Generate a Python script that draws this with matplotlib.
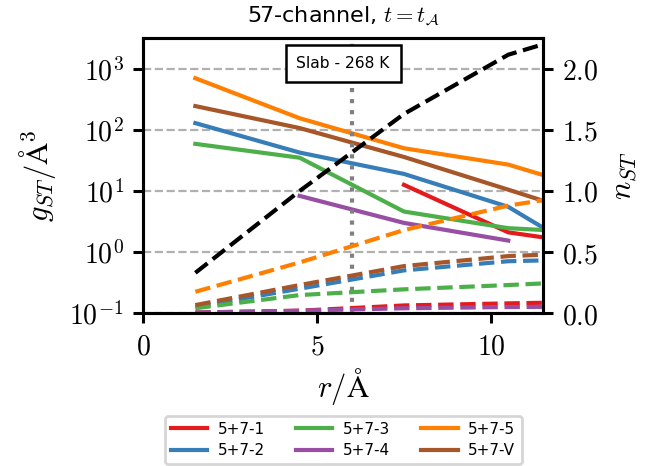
import numpy as np
import matplotlib
matplotlib.use("Agg")
import matplotlib.pyplot as plt
from matplotlib.ticker import FixedLocator, FixedFormatter, NullLocator

plt.rcParams['mathtext.fontset'] = 'cm'
plt.rcParams['axes.linewidth'] = 1.1

nan = np.nan
r = [1.5, 4.5, 7.5, 10.5, 13.5]

# g_ST (left axis, log)
g_1 = [nan, nan, 12.6, 2.1, 1.2]
g_2 = [129, 42.5, 19, 5.5, 0.52]
g_3 = [59, 35, 4.6, 2.46, 2.0]
g_4 = [nan, 8.3, 3.0, 1.54, nan]
g_5 = [700, 155, 50, 27, 8.3]
g_V = [245, 107, 36, 10.5, 3.0]

# n_ST (right axis)
n_1 = [0.005, 0.02, 0.063, 0.08, 0.095]
n_2 = [0.052, 0.20, 0.35, 0.425, 0.445]
n_3 = [0.04, 0.148, 0.195, 0.23, 0.27]
n_4 = [0.005, 0.02, 0.04, 0.05, 0.055]
n_5 = [0.175, 0.415, 0.68, 0.88, 1.015]
n_V = [0.066, 0.23, 0.385, 0.467, 0.50]
n_tot = [0.33, 1.0, 1.63, 2.115, 2.37]

labels = ['5+7-1', '5+7-2', '5+7-3', '5+7-4', '5+7-5', '5+7-V']
colors = ['#e41a1c', '#377eb8', '#4daf4a', '#984ea3', '#ff7f00', '#a65628']
g_all = [g_1, g_2, g_3, g_4, g_5, g_V]
n_all = [n_1, n_2, n_3, n_4, n_5, n_V]

fig = plt.figure(figsize=(3.24, 2.33), dpi=200)
ax = fig.add_axes([0.221, 0.328, 0.617, 0.59])
ax2 = ax.twinx()

for g, lab, c in zip(g_all, labels, colors):
    ax.plot(r, g, color=c, lw=1.5, label=lab)
ax.set_yscale('log')
ax.set_ylim(0.1, 10**3.5)
ax.set_xlim(0, 11.5)
ax.yaxis.set_major_locator(FixedLocator([0.1, 1, 10, 100, 1000]))
ax.yaxis.set_major_formatter(FixedFormatter(['$10^{-1}$', '$10^{0}$', '$10^{1}$', '$10^{2}$', '$10^{3}$']))
ax.yaxis.set_minor_locator(NullLocator())
ax.xaxis.set_major_locator(FixedLocator([0, 5, 10]))
ax.xaxis.set_major_formatter(FixedFormatter(['$0$', '$5$', '$10$']))
ax.yaxis.grid(True, ls='--', color='#b0b0b0', lw=0.8)
ax.tick_params(labelsize=10, width=1.1, length=3.5)

ax2.axvline(6, color='gray', ls=':', lw=1.5)
for n, c in zip(n_all, colors):
    ax2.plot(r, n, color=c, lw=1.5, ls='--')
ax2.plot(r, n_tot, color='k', lw=1.5, ls='--')
ax2.set_ylim(0, 2.25)
ax2.yaxis.set_major_locator(FixedLocator([0, 0.5, 1, 1.5, 2]))
ax2.yaxis.set_major_formatter(FixedFormatter(['$0.0$', '$0.5$', '$1.0$', '$1.5$', '$2.0$']))
ax2.tick_params(labelsize=10, width=1.1, length=3.5)

ax2.text(0.5, 0.907, 'Slab - 268 K', transform=ax2.transAxes, ha='center', va='center',
         fontsize=5.6, zorder=10,
         bbox=dict(boxstyle='square,pad=0.7', fc='white', ec='black', lw=0.9))

ax.set_xlabel(r'$r/\mathrm{\AA}$', fontsize=11, labelpad=2)
ax.set_ylabel(r'$g_{ST}/\mathrm{\AA}^3$', fontsize=11)
ax2.set_ylabel(r'$n_{ST}$', fontsize=11)
ax.set_title(r'57-channel, $t = t_\mathcal{A}$', fontsize=8)

ax.legend(loc='upper center', bbox_to_anchor=(0.5, -0.345), ncol=3, fontsize=5.5,
          handlelength=2.4, handletextpad=0.7, labelspacing=0.4)

fig.savefig('out.png', dpi=200)
